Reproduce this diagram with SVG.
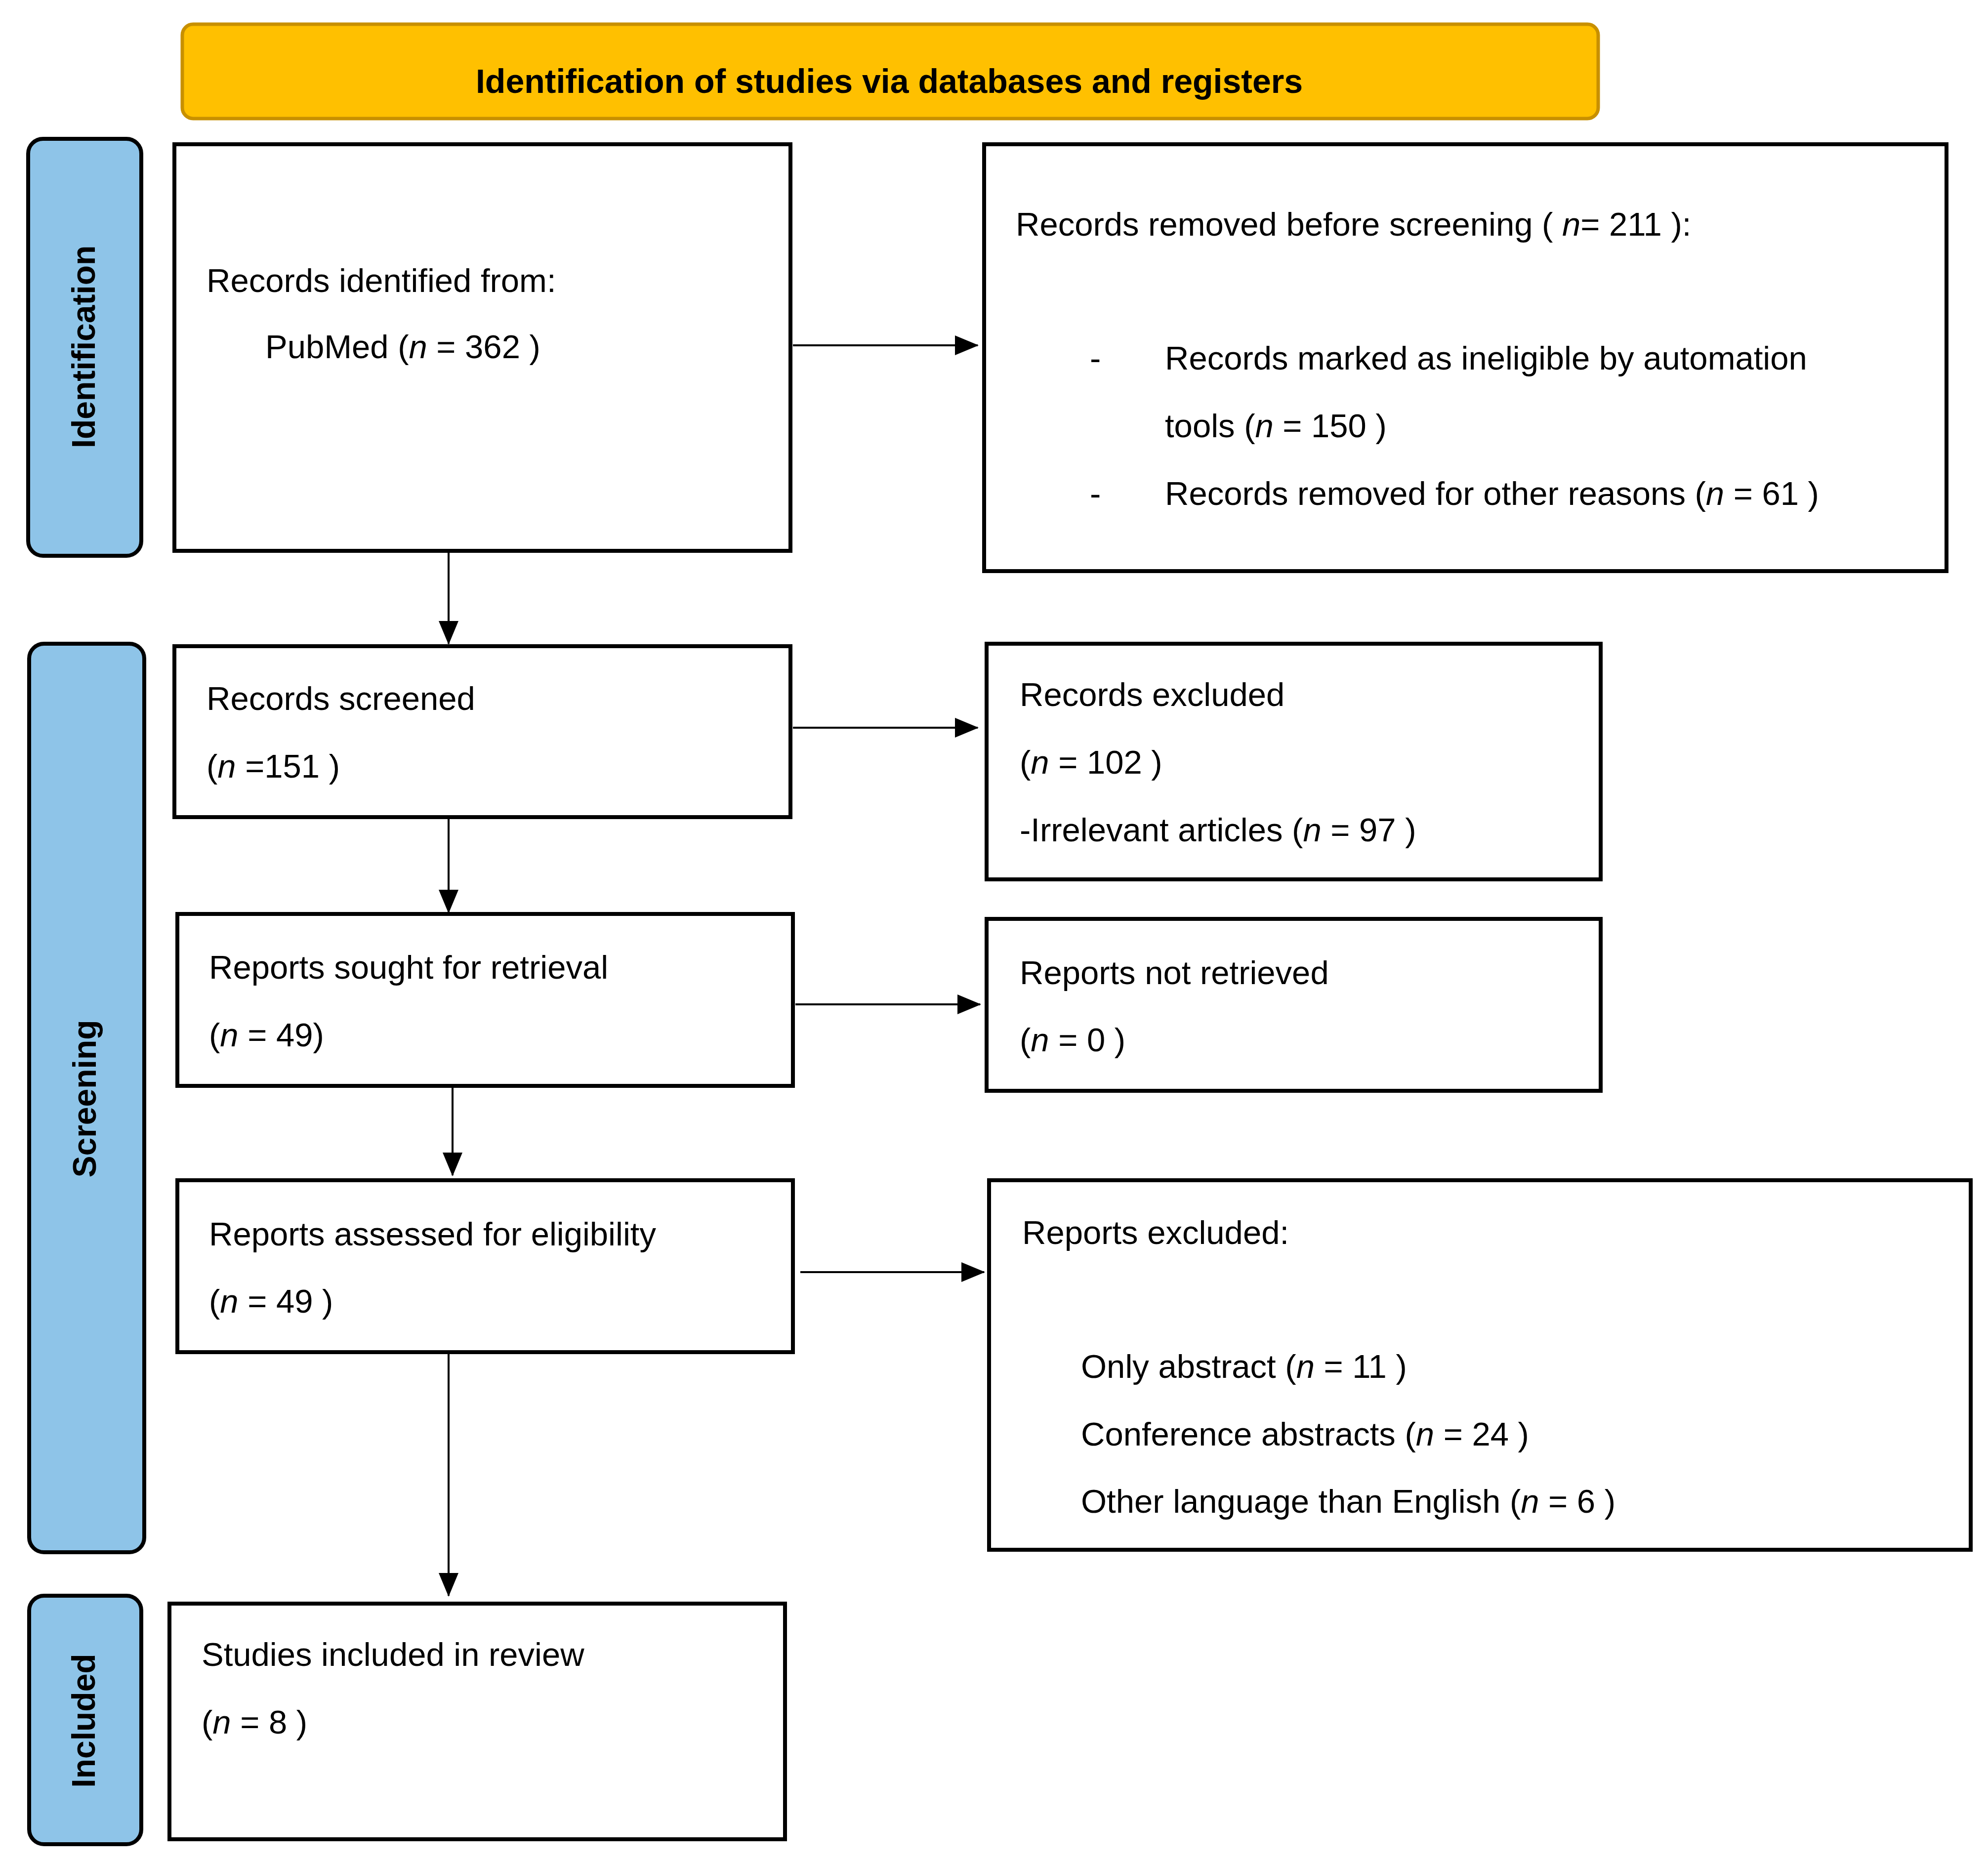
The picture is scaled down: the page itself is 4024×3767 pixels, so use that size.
<svg xmlns="http://www.w3.org/2000/svg" width="4024" height="3767" viewBox="0 0 4024 3767">
<style>
.box{fill:#fff;stroke:#000;stroke-width:8}
.side{fill:#8EC4E8;stroke:#000;stroke-width:8}
.t{font-family:"Liberation Sans",Arial,sans-serif;font-size:67px;fill:#000}
.s{font-family:"Liberation Sans",Arial,sans-serif;font-size:66px;font-weight:bold;fill:#000;text-anchor:middle}
.c{stroke:#000;stroke-width:4;fill:none;marker-end:url(#ah)}
</style>
<defs>
<marker id="ah" markerUnits="userSpaceOnUse" markerWidth="48" markerHeight="40" refX="46" refY="20" orient="auto">
<path d="M0,0 L48,20 L0,40 Z" fill="#000"/>
</marker>
</defs>
<g id="title">
<rect x="369" y="49" width="2866" height="191" rx="22" fill="#FFC000" stroke="#C89000" stroke-width="7"/>
<text x="1800" y="188" class="s" style="font-size:68px">Identification of studies via databases and registers</text>
</g>
<g id="side-identification">
<rect class="side" x="57" y="281" width="229" height="844" rx="30"/>
<text class="s" transform="translate(192,702) rotate(-90)">Identification</text>
</g>
<g id="side-screening">
<rect class="side" x="59" y="1303" width="233" height="1839" rx="30"/>
<text class="s" transform="translate(194,2224) rotate(-90)">Screening</text>
</g>
<g id="side-included">
<rect class="side" x="59" y="3230" width="227" height="503" rx="30"/>
<text class="s" transform="translate(192,3483) rotate(-90)">Included</text>
</g>
<g id="n1">
<rect class="box" x="353" y="292" width="1247" height="823"/>
<text class="t" x="418" y="591">Records identified from:</text>
<text class="t" x="537" y="725">PubMed (<tspan font-style="italic">n</tspan> = 362 )</text>
</g>
<g id="n2">
<rect class="box" x="1992" y="292" width="1948" height="864"/>
<text class="t" x="2056" y="477">Records removed before screening ( <tspan font-style="italic">n</tspan>= 211 ):</text>
<text class="t" x="2206" y="748">-</text>
<text class="t" x="2358" y="748">Records marked as ineligible by automation</text>
<text class="t" x="2358" y="885">tools (<tspan font-style="italic">n</tspan> = 150 )</text>
<text class="t" x="2206" y="1022">-</text>
<text class="t" x="2358" y="1022">Records removed for other reasons (<tspan font-style="italic">n</tspan> = 61 )</text>
</g>
<g id="n3">
<rect class="box" x="353" y="1308" width="1247" height="346"/>
<text class="t" x="418" y="1437">Records screened</text>
<text class="t" x="418" y="1574">(<tspan font-style="italic">n</tspan> =151 )</text>
</g>
<g id="n4">
<rect class="box" x="1997" y="1303" width="1243" height="477"/>
<text class="t" x="2064" y="1429">Records excluded</text>
<text class="t" x="2064" y="1566">(<tspan font-style="italic">n</tspan> = 102 )</text>
<text class="t" x="2064" y="1703">-Irrelevant articles (<tspan font-style="italic">n</tspan> = 97 )</text>
</g>
<g id="n5">
<rect class="box" x="359" y="1850" width="1246" height="348"/>
<text class="t" x="423" y="1981">Reports sought for retrieval</text>
<text class="t" x="423" y="2118">(<tspan font-style="italic">n</tspan> = 49)</text>
</g>
<g id="n6">
<rect class="box" x="1997" y="1860" width="1243" height="348"/>
<text class="t" x="2064" y="1992">Reports not retrieved</text>
<text class="t" x="2064" y="2128">(<tspan font-style="italic">n</tspan> = 0 )</text>
</g>
<g id="n7">
<rect class="box" x="359" y="2389" width="1246" height="348"/>
<text class="t" x="423" y="2521">Reports assessed for eligibility</text>
<text class="t" x="423" y="2657">(<tspan font-style="italic">n</tspan> = 49 )</text>
</g>
<g id="n8">
<rect class="box" x="2002" y="2389" width="1987" height="748"/>
<text class="t" x="2069" y="2518">Reports excluded:</text>
<text class="t" x="2188" y="2789">Only abstract (<tspan font-style="italic">n</tspan> = 11 )</text>
<text class="t" x="2188" y="2926">Conference abstracts (<tspan font-style="italic">n</tspan> = 24 )</text>
<text class="t" x="2188" y="3062">Other language than English (<tspan font-style="italic">n</tspan> = 6 )</text>
</g>
<g id="n9">
<rect class="box" x="343" y="3246" width="1246" height="477"/>
<text class="t" x="408" y="3372">Studies included in review</text>
<text class="t" x="408" y="3509">(<tspan font-style="italic">n</tspan> = 8 )</text>
</g>
<g id="connectors">
<line class="c" x1="1605" y1="699" x2="1979" y2="699"/>
<line class="c" x1="908" y1="1115" x2="908" y2="1303"/>
<line class="c" x1="1605" y1="1473" x2="1979" y2="1473"/>
<line class="c" x1="908" y1="1654" x2="908" y2="1847"/>
<line class="c" x1="1610" y1="2033" x2="1984" y2="2033"/>
<line class="c" x1="916" y1="2198" x2="916" y2="2379"/>
<line class="c" x1="1620" y1="2575" x2="1992" y2="2575"/>
<line class="c" x1="908" y1="2737" x2="908" y2="3230"/>
</g>
</svg>
